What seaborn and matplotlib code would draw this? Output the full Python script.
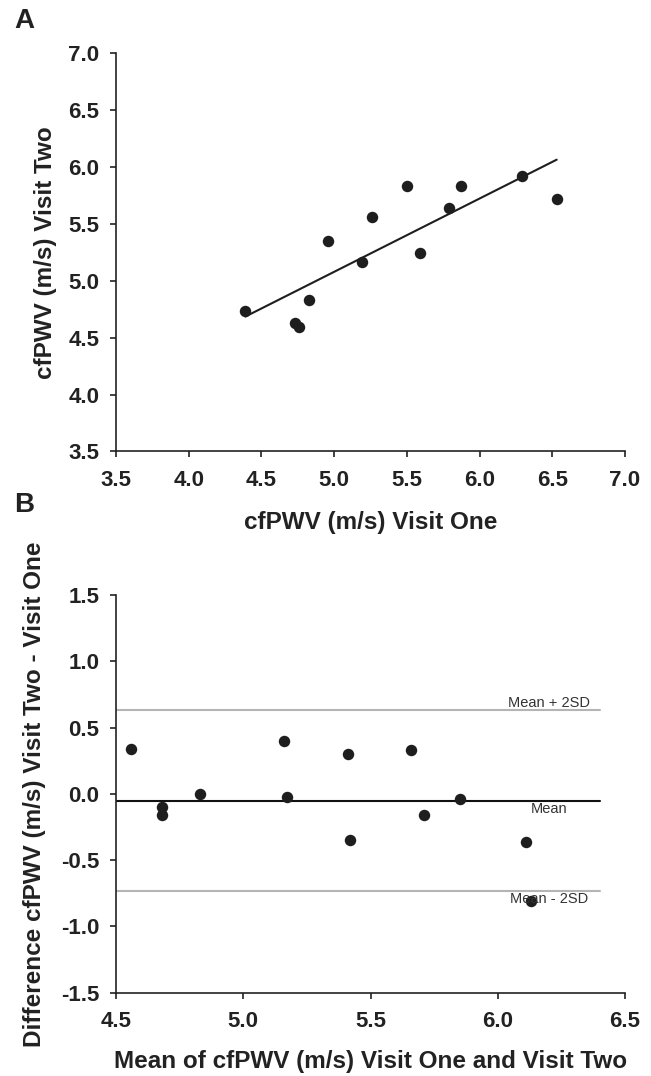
import numpy as np
import pandas as pd
import seaborn as sns
from matplotlib import pyplot as plt

sns.set_style('ticks')
plt.rcParams['font.family'] = ['Liberation Sans', 'DejaVu Sans']
plt.rcParams['axes.linewidth'] = 1.2
plt.rcParams['axes.edgecolor'] = '#222222'

# panel A: visit one vs visit two
visit_one = [4.39, 4.73, 4.76, 4.83, 4.96, 5.19, 5.26, 5.50, 5.59, 5.79, 5.87, 6.29, 6.53]
visit_two = [4.73, 4.63, 4.59, 4.83, 5.35, 5.16, 5.56, 5.83, 5.24, 5.64, 5.83, 5.92, 5.72]

# panel B: Bland-Altman
ba_mean = [4.56, 4.68, 4.68, 4.83, 5.16, 5.17, 5.41, 5.42, 5.66, 5.71, 5.85, 6.11, 6.13]
ba_diff = [0.335, -0.098, -0.162, -0.003, 0.395, -0.026, 0.297, -0.348, 0.328, -0.162, -0.039, -0.366, -0.812]
mean_diff = -0.052
upper_lim = 0.635
lower_lim = -0.735
line_x = [4.5, 6.40]

dfa = pd.DataFrame({'v1': visit_one, 'v2': visit_two})
dfb = pd.DataFrame({'m': ba_mean, 'd': ba_diff})

dot = '#1e1e1e'
txt = '#222222'

fig = plt.figure(figsize=(6.51, 10.76), dpi=100)
ax1 = fig.add_axes([0.1782, 0.5804, 0.7819, 0.3704])
ax2 = fig.add_axes([0.1782, 0.0776, 0.7819, 0.3694])

sns.regplot(x='v1', y='v2', data=dfa, ax=ax1, ci=None, truncate=True,
            scatter_kws={'color': dot, 's': 68, 'alpha': 1, 'linewidths': 0},
            line_kws={'color': dot, 'lw': 1.5})
ax1.set_xlim(3.5, 7.0)
ax1.set_ylim(3.5, 7.0)
ax1.set_xticks(np.arange(3.5, 7.01, 0.5))
ax1.set_yticks(np.arange(3.5, 7.01, 0.5))
ax1.set_xlabel('cfPWV (m/s) Visit One', fontsize=17.5, fontweight='bold', color=txt)
ax1.set_ylabel('cfPWV (m/s) Visit Two', fontsize=17.5, fontweight='bold', color=txt)
ax1.xaxis.set_label_coords(0.5, -0.149)
ax1.yaxis.set_label_coords(-0.116, 0.5)

sns.scatterplot(x='m', y='d', data=dfb, ax=ax2, color=dot, s=68, linewidth=0, zorder=3)
ax2.plot(line_x, [upper_lim, upper_lim], color='#b4b4b4', lw=1.5)
ax2.plot(line_x, [lower_lim, lower_lim], color='#b4b4b4', lw=1.5)
ax2.plot(line_x, [mean_diff, mean_diff], color='#111111', lw=1.5)
ax2.text(6.20, upper_lim, 'Mean + 2SD', ha='center', va='bottom', fontsize=10.5, color='#333333')
ax2.text(6.20, mean_diff - 0.01, 'Mean', ha='center', va='top', fontsize=10.5, color='#333333')
ax2.text(6.20, lower_lim - 0.01, 'Mean - 2SD', ha='center', va='top', fontsize=10.5, color='#333333')
ax2.set_xlim(4.5, 6.5)
ax2.set_ylim(-1.5, 1.5)
ax2.set_xticks(np.arange(4.5, 6.51, 0.5))
ax2.set_yticks(np.arange(-1.5, 1.51, 0.5))
ax2.set_xlabel('Mean of cfPWV (m/s) Visit One and Visit Two', fontsize=17.5, fontweight='bold', color=txt)
ax2.set_ylabel('Difference cfPWV (m/s) Visit Two - Visit One', fontsize=17.5, fontweight='bold', color=txt)
ax2.xaxis.set_label_coords(0.5, -0.145)
ax2.yaxis.set_label_coords(-0.1375, 0.5)

for ax in (ax1, ax2):
    sns.despine(ax=ax)
    ax.tick_params(direction='out', length=4.3, width=1.2, color='#222222',
                   labelsize=16, labelcolor=txt)
    ax.tick_params(axis='y', pad=7.5)
    ax.tick_params(axis='x', pad=9)
    ax.set_xticklabels(['{:.1f}'.format(t) for t in ax.get_xticks()], fontweight='bold')
    ax.set_yticklabels(['{:.1f}'.format(t) for t in ax.get_yticks()], fontweight='bold')

fig.text(0.0215, 0.9926, 'A', fontsize=20, fontweight='bold', color=txt, ha='left', va='top')
fig.text(0.0215, 0.5428, 'B', fontsize=20, fontweight='bold', color=txt, ha='left', va='top')

plt.savefig('out.png', dpi=100)
